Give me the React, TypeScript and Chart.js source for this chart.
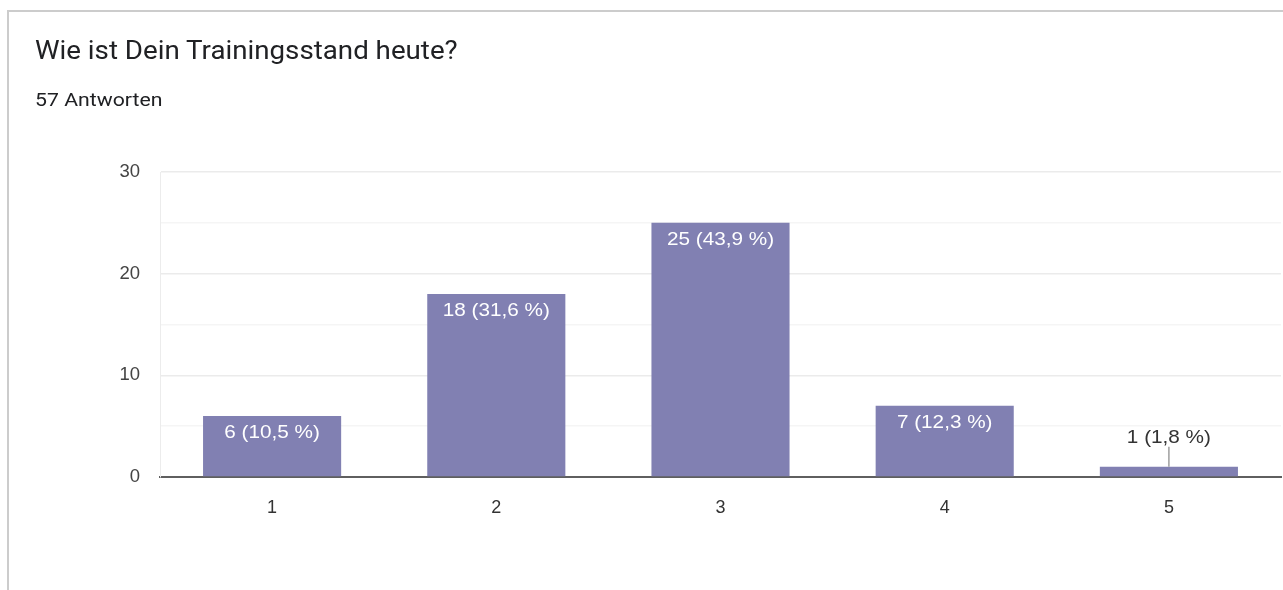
import React, { useEffect, useRef } from "react";
import { Chart, registerables } from "chart.js";

Chart.register(...registerables);

const categories = ["1", "2", "3", "4", "5"];
const counts = [6, 18, 25, 7, 1];
const percentLabels = ["10,5 %", "31,6 %", "43,9 %", "12,3 %", "1,8 %"];
const yTicks = [0, 10, 20, 30];

const TITLE = "Wie ist Dein Trainingsstand heute?";
const SUBTITLE = "57 Antworten";

const labelPlugin = {
  id: "barLabels",
  afterDatasetsDraw(chart: any) {
    const ctx = chart.ctx;
    const meta = chart.getDatasetMeta(0);
    meta.data.forEach((bar: any, i: number) => {
      const text = `${counts[i]} (${percentLabels[i]})`;
      const h = bar.base - bar.y;
      ctx.save();
      ctx.font = "18.5px 'Liberation Sans', Arial, sans-serif";
      ctx.textAlign = "center";
      ctx.textBaseline = "middle";
      if (h > 30) {
        ctx.translate(bar.x, bar.y + 17);
        ctx.scale(1.12, 1);
        ctx.fillStyle = "#ffffff";
        ctx.fillText(text, 0, 0);
      } else {
        ctx.strokeStyle = "#9e9e9e";
        ctx.lineWidth = 1.5;
        ctx.beginPath();
        ctx.moveTo(bar.x, bar.y - 20);
        ctx.lineTo(bar.x, bar.y);
        ctx.stroke();
        ctx.translate(bar.x, bar.y - 29);
        ctx.scale(1.12, 1);
        ctx.fillStyle = "#333333";
        ctx.fillText(text, 0, 0);
      }
      ctx.restore();
    });
  },
};

export default function App() {
  const ref = useRef<HTMLCanvasElement>(null);
  useEffect(() => {
    if (!ref.current) return;
    const chart = new Chart(ref.current, {
      type: "bar",
      data: {
        labels: categories,
        datasets: [
          {
            data: counts,
            backgroundColor: "#8180b2",
            categoryPercentage: 1,
            barPercentage: 0.616,
          },
        ],
      },
      options: {
        animation: false,
        responsive: false,
        devicePixelRatio: 1,
        layout: { padding: { top: 172, bottom: 73, left: 0, right: 2 } },
        plugins: { legend: { display: false }, tooltip: { enabled: false } },
        scales: {
          x: {
            grid: { display: false },
            border: { display: true, color: "#5f5f5f", width: 2 },
            ticks: {
              color: "#333333",
              padding: 12,
              font: { size: 18, family: "'Liberation Sans', Arial, sans-serif" },
            },
            afterFit: (s: any) => {
              s.height = 40;
            },
          },
          y: {
            min: 0,
            max: 30,
            border: { display: true, color: "#ececec", width: 1 },
            grid: {
              drawTicks: false,
              color: (c: any) =>
                c.tick && yTicks.includes(c.tick.value) ? "#ebebeb" : "#f5f5f5",
              lineWidth: 1.5,
            },
            ticks: {
              stepSize: 5,
              color: "#444444",
              padding: 20,
              font: { size: 18.5, family: "'Liberation Sans', Arial, sans-serif" },
              callback: (v: any) => (yTicks.includes(Number(v)) ? String(v) : ""),
            },
            afterFit: (s: any) => {
              s.width = 160;
            },
          },
        },
      },
      plugins: [labelPlugin],
    });
    return () => chart.destroy();
  }, []);

  return (
    <div style={{ position: "fixed", left: 0, top: 0, width: 1283, height: 590, background: "#fff", overflow: "hidden" }}>
      <div
        style={{
          position: "absolute",
          left: 7,
          top: 10,
          width: 1300,
          height: 600,
          borderLeft: "2px solid #cccccc",
          borderTop: "2px solid #cccccc",
        }}
      />
      <canvas ref={ref} width={1283} height={590} style={{ position: "absolute", left: 0, top: 0 }} />
      <div
        style={{
          position: "absolute",
          left: 35,
          top: 35,
          fontFamily: "Roboto, 'Liberation Sans', sans-serif",
          fontSize: 25,
          color: "#202124",
          whiteSpace: "nowrap",
          lineHeight: "32px",
          transform: "scaleX(1.108)",
          transformOrigin: "left center",
        }}
      >
        {TITLE}
      </div>
      <div
        style={{
          position: "absolute",
          left: 35,
          top: 88,
          fontFamily: "Roboto, 'Liberation Sans', sans-serif",
          fontSize: 18,
          color: "#202124",
          whiteSpace: "nowrap",
          lineHeight: "24px",
          transform: "scaleX(1.18)",
          transformOrigin: "left center",
        }}
      >
        {SUBTITLE}
      </div>
    </div>
  );
}
